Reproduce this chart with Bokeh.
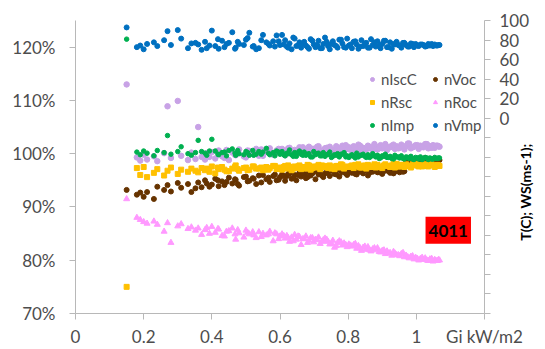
import math
from bokeh.plotting import figure
from bokeh.models import (Range1d, LinearAxis, FixedTicker, PrintfTickFormatter,
                          CustomJSTickFormatter, Legend, LegendItem, Label)
from bokeh.embed import file_html
from bokeh.resources import INLINE

# ---------------- data ----------------
x_gi = [
    0.15,
    0.18, 0.19, 0.20, 0.21, 0.23, 0.24, 0.26, 0.27, 0.28, 0.30, 0.31, 0.33, 0.34,
    0.36, 0.37, 0.38, 0.40, 0.41, 0.42, 0.43, 0.45, 0.46, 0.47, 0.48, 0.50, 0.51, 0.52, 0.53, 0.55, 0.56, 0.57, 0.58, 0.59,
    0.600, 0.606, 0.615, 0.620, 0.628, 0.634, 0.643, 0.648, 0.657, 0.662,
    0.671, 0.676, 0.685, 0.690, 0.699, 0.704, 0.713, 0.718, 0.727, 0.732,
    0.741, 0.746, 0.755, 0.760, 0.769, 0.774, 0.783, 0.788, 0.797, 0.802,
    0.811, 0.816, 0.825, 0.830, 0.839, 0.844, 0.853, 0.858, 0.867, 0.872,
    0.881, 0.886, 0.895, 0.900, 0.909, 0.914, 0.923, 0.928, 0.937, 0.942,
    0.951, 0.956, 0.965, 0.970, 0.979, 0.984, 0.993, 0.998, 1.007, 1.012,
    1.021, 1.026, 1.035, 1.040, 1.049, 1.054, 1.062, 1.068,
    0.352, 0.385, 0.393, 0.418, 0.437, 0.443, 0.468, 0.476, 0.494, 0.505,
    0.523, 0.538, 0.545, 0.566, 0.585, 0.596, 0.611, 0.624, 0.639, 0.653,
    0.667, 0.681, 0.695, 0.709, 0.723, 0.737, 0.751, 0.765, 0.779, 0.793,
    0.807, 0.821, 0.835, 0.849, 0.863, 0.877, 0.891, 0.905, 0.919, 0.933,
    0.947, 0.961, 0.975, 0.989, 1.003, 1.017, 1.031, 1.045, 1.058, 1.065,
]

n_iscc = [
    113.0,
    99.3, 98.7, 99.8, 98.9, 99.5, 98.6, 100.1, 108.9, 99.2, 109.9, 99.6, 98.8, 100.2,
    105.0, 99.4, 98.9, 100.3, 99.1, 100.6, 99.5, 98.8, 100.2, 99.7, 100.8, 99.3, 100.5, 99.9, 100.9, 99.6, 100.4, 101.0, 99.8, 100.6,
    100.2, 100.9, 99.7, 100.5, 101.1, 100.0, 100.7, 99.9, 101.2, 100.4,
    100.8, 100.1, 101.3, 100.5, 100.9, 100.2, 101.4, 100.6, 100.3, 101.0,
    100.5, 101.3, 100.7, 100.2, 101.1, 100.8, 101.5, 100.4, 100.9, 101.2,
    100.6, 101.4, 100.9, 101.7, 100.5, 101.1, 100.8, 101.5, 101.0, 100.6,
    101.3, 100.8, 101.6, 101.0, 101.8, 100.7, 101.2, 101.5, 100.9, 101.4,
    101.1, 101.7, 100.8, 101.4, 101.9, 101.0, 101.3, 101.6, 100.9, 101.5,
    101.2, 101.8, 101.0, 101.4, 101.6, 101.1, 101.5, 101.3,
    99.0, 100.1, 99.4, 100.4, 99.2, 100.7, 99.8, 100.3, 99.5, 100.6,
    100.0, 99.6, 100.8, 100.2, 99.9, 100.9, 100.4, 101.0, 100.1, 100.6,
    101.2, 100.4, 100.9, 101.3, 100.6, 101.1, 100.3, 101.4, 100.9, 101.6,
    100.7, 101.2, 101.5, 100.8, 101.3, 101.8, 101.0, 101.5, 101.2, 101.7,
    101.0, 101.4, 101.9, 101.2, 101.6, 101.3, 101.8, 101.1, 101.5, 101.4,
]

n_voc = [
    93.2,
    92.3, 92.7, 91.9, 92.8, 91.5, 93.8, 93.2, 94.1, 92.9, 94.5, 93.6, 94.3, 92.8,
    94.6, 93.7, 95.0, 94.2, 95.3, 93.9, 94.8, 95.5, 94.4, 95.1, 94.0, 95.7, 94.9, 95.4, 94.3, 96.0, 95.2, 94.7, 95.8, 95.0,
    95.6, 96.1, 94.9, 95.8, 96.3, 95.3, 96.0, 95.0, 96.4, 95.7,
    96.2, 95.4, 96.5, 95.9, 96.7, 95.2, 96.1, 96.8, 95.6, 96.3,
    96.6, 95.8, 96.9, 96.2, 97.0, 95.7, 96.5, 97.1, 96.0, 96.7,
    96.4, 97.0, 96.1, 96.8, 97.2, 96.3, 96.9, 95.9, 97.3, 96.6,
    97.1, 96.5, 97.4, 96.2, 96.8, 97.5, 96.4, 97.0, 96.6, 97.2,
    96.5, 97.3, 96.7, 98.6, 99.0, 98.4, 98.9, 98.7, 99.1, 98.5,
    98.8, 99.2, 98.6, 99.0, 98.7, 99.1, 98.9, 98.8,
    93.5, 94.4, 93.8, 95.0, 94.1, 94.7, 95.2, 94.3, 95.6, 94.8,
    95.3, 95.9, 94.6, 95.5, 96.1, 95.1, 95.8, 96.2, 95.4, 96.0,
    96.4, 95.6, 96.3, 96.6, 95.9, 96.5, 96.8, 96.1, 96.7, 96.3,
    96.9, 96.2, 96.6, 97.0, 96.4, 96.9, 96.5, 97.1, 96.7, 96.3,
    96.8, 96.6, 98.5, 98.9, 98.6, 99.0, 98.7, 98.9, 98.6, 98.8,
]

n_rsc = [
    75.0,
    97.3, 96.0, 97.5, 95.6, 96.4, 97.1, 95.9, 96.8, 97.4, 96.2, 97.0, 96.6, 97.2,
    96.5, 97.3, 96.9, 97.6, 96.3, 97.1, 97.5, 96.7, 97.2, 97.8, 96.8, 97.4, 97.0, 97.6, 97.2, 96.9, 97.5, 97.3, 97.7, 97.1,
    97.4, 97.0, 97.7, 97.2, 97.5, 96.9, 97.6, 97.3, 97.8, 97.1,
    97.5, 97.2, 97.8, 97.0, 97.6, 97.4, 97.9, 97.1, 97.5, 97.7,
    97.3, 97.8, 97.5, 97.1, 97.7, 97.4, 97.9, 97.2, 97.6, 97.5,
    97.8, 97.3, 97.6, 98.0, 97.4, 97.7, 97.2, 97.9, 97.5, 97.6,
    97.4, 97.9, 97.6, 97.3, 98.0, 97.7, 97.5, 97.8, 97.4, 98.1,
    97.6, 97.9, 97.5, 98.0, 97.7, 97.4, 97.8, 98.1, 97.6, 97.9,
    97.7, 98.0, 97.6, 97.9, 97.8, 97.5, 97.9, 97.7,
    96.8, 97.2, 96.6, 97.4, 97.0, 96.7, 97.5, 97.1, 97.3, 96.9,
    97.6, 97.2, 97.4, 97.0, 97.7, 97.3, 97.5, 97.8, 97.2, 97.6,
    97.4, 97.9, 97.3, 97.6, 97.8, 97.5, 97.2, 97.7, 98.0, 97.5,
    97.6, 97.9, 97.4, 97.8, 97.6, 98.0, 97.5, 97.8, 97.7, 98.1,
    97.6, 97.9, 97.7, 98.0, 97.8, 97.6, 97.9, 98.0, 97.7, 97.8,
]

n_roc = [
    91.5,
    88.0, 87.6, 87.2, 86.9, 87.3, 86.7, 85.4, 87.0, 83.3, 86.4, 86.8, 85.9, 86.2,
    86.0, 84.8, 85.7, 86.3, 85.2, 85.8, 84.6, 85.5, 86.0, 83.9, 85.1, 85.6, 84.9, 85.3, 84.2, 85.0, 84.7, 85.4, 83.6, 84.9,
    84.5, 84.9, 84.1, 84.6, 83.5, 84.3, 84.8, 83.9, 84.4, 82.9,
    84.0, 84.5, 83.7, 84.2, 83.4, 83.9, 84.3, 83.1, 83.8, 84.1,
    83.5, 83.0, 83.7, 82.4, 83.3, 83.6, 82.8, 83.2, 82.5, 83.0,
    82.6, 82.9, 82.2, 82.7, 81.8, 82.4, 82.0, 82.5, 81.7, 82.1,
    81.9, 82.3, 81.5, 81.8, 81.2, 81.7, 81.4, 80.9, 81.3, 81.0,
    80.8, 81.2, 80.6, 80.9, 80.4, 80.7, 80.2, 80.5, 80.0, 80.3,
    80.1, 80.4, 79.9, 80.2, 79.8, 80.1, 79.9, 80.0,
    85.6, 86.1, 85.0, 85.9, 84.5, 85.4, 84.9, 85.7, 84.3, 85.2,
    84.7, 85.3, 84.4, 84.9, 85.1, 84.0, 84.6, 84.2, 83.6, 84.5,
    84.0, 83.3, 84.2, 83.8, 83.5, 83.9, 83.2, 82.7, 83.4, 82.9,
    82.8, 83.1, 82.3, 82.6, 81.9, 82.3, 81.6, 81.9, 81.3, 81.6,
    81.0, 81.4, 80.6, 80.8, 80.3, 80.5, 80.0, 80.3, 79.9, 80.1,
]

n_imp = [
    121.5,
    100.3, 99.8, 100.5, 100.1, 99.6, 100.6, 100.2, 103.4, 99.9, 100.4, 101.3, 100.0, 99.7,
    102.5, 100.4, 100.1, 102.7, 100.5, 99.8, 100.2, 100.6, 100.9, 99.7, 100.0, 100.4, 99.7, 100.6, 99.9, 100.3, 101.0, 99.8, 100.2, 100.5,
    99.9, 100.4, 99.6, 100.1, 100.7, 99.8, 100.2, 99.5, 100.5, 99.9,
    100.3, 99.7, 100.0, 99.4, 100.4, 99.8, 100.1, 99.6, 100.2, 99.5,
    99.9, 100.3, 99.5, 99.8, 100.0, 99.4, 99.9, 100.2, 99.6, 99.3,
    99.8, 99.5, 100.1, 99.4, 99.7, 99.9, 99.3, 99.8, 99.5, 100.0,
    99.4, 99.7, 99.2, 99.6, 99.9, 99.3, 99.5, 99.1, 99.7, 99.4,
    99.2, 99.6, 99.0, 99.4, 99.1, 99.5, 98.9, 99.3, 99.0, 99.4,
    99.1, 99.3, 98.9, 99.2, 99.0, 99.3, 99.1, 99.2,
    100.2, 99.7, 100.5, 99.9, 100.3, 99.6, 100.1, 100.6, 99.8, 100.2,
    99.7, 100.4, 99.9, 100.1, 99.6, 100.3, 99.8, 100.0, 99.5, 100.2,
    99.7, 99.9, 99.4, 100.0, 99.6, 99.8, 99.3, 99.7, 99.9, 99.4,
    99.6, 99.2, 99.7, 99.5, 99.3, 99.6, 99.1, 99.5, 99.3, 99.0,
    99.4, 99.1, 99.3, 99.0, 99.2, 98.9, 99.2, 99.0, 99.1, 99.2,
]

n_vmp = [
    123.7,
    120.0, 120.3, 119.6, 120.6, 120.9, 120.2, 121.3, 123.0, 120.4, 123.2, 121.6, 119.8, 120.7,
    120.5, 119.5, 121.0, 123.1, 120.2, 119.7, 121.2, 120.8, 122.8, 119.9, 120.6, 121.4, 122.7, 120.1, 119.6, 122.3, 120.9, 120.3, 121.1, 122.2,
    120.4, 122.3, 121.3, 120.1, 120.7, 119.6, 121.6, 120.2, 120.9, 119.9,
    121.0, 120.3, 119.7, 121.5, 120.5, 120.0, 121.2, 119.8, 120.6, 121.8,
    120.2, 119.6, 121.1, 120.4, 119.9, 121.4, 120.7, 120.0, 121.6, 120.3,
    119.8, 121.0, 120.5, 119.7, 121.3, 120.2, 120.8, 119.9, 121.5, 120.4,
    120.1, 121.1, 119.8, 120.6, 121.2, 120.0, 120.9, 119.7, 120.5, 121.0,
    120.3, 119.9, 120.8, 120.4, 120.1, 120.7, 120.0, 120.6, 120.2, 120.5,
    120.4, 120.1, 120.6, 120.3, 120.2, 120.5, 120.3, 120.4,
    120.8, 119.8, 120.3, 121.5, 120.0, 120.6, 119.7, 121.0, 120.4, 121.7,
    120.2, 119.8, 121.3, 120.6, 120.1, 121.1, 120.5, 119.9, 121.8, 120.3,
    120.7, 120.0, 121.2, 120.4, 119.8, 121.0, 120.6, 120.2, 121.4, 119.9,
    120.5, 121.1, 120.1, 120.7, 119.9, 120.9, 120.3, 121.2, 120.0, 120.6,
    120.4, 120.8, 120.1, 120.6, 120.3, 120.5, 120.2, 120.6, 120.3, 120.4,
]

for s in (n_iscc, n_voc, n_rsc, n_roc, n_imp, n_vmp):
    assert len(s) == len(x_gi), (len(s), len(x_gi))

pct_ticks = [70, 80, 90, 100, 110, 120]
gi_ticks = [0, 0.2, 0.4, 0.6, 0.8, 1.0, 1.2]
env_ticks = [-200, -180, -160, -140, -120, -100, -80, -60, -40, -20, 0, 20, 40, 60, 80, 100]
x_title = "Gi kW/m2"
env_title = "T(C); WS(ms-1);"

FONT = "Lato"
AX = "#b8b8b8"
TXT = "#4d4d4d"

p = figure(width=545, height=349, x_range=Range1d(0, 1.2), y_range=Range1d(70, 125),
           output_backend="svg", toolbar_location=None,
           min_border_left=75, min_border_right=55, min_border_top=20, min_border_bottom=35)
p.outline_line_color = None
p.xgrid.visible = False
p.ygrid.visible = False

p.extra_y_ranges = {"env": Range1d(-200, 100)}
raxis = LinearAxis(y_range_name="env")
p.add_layout(raxis, "right")

p.yaxis[0].ticker = FixedTicker(ticks=pct_ticks)
p.yaxis[0].formatter = PrintfTickFormatter(format="%d%%")
p.xaxis[0].ticker = FixedTicker(ticks=gi_ticks)
p.xaxis[0].formatter = CustomJSTickFormatter(
    args=dict(t=x_title),
    code="return tick > 1.1 ? t : String(Math.round(tick*10)/10);")
raxis.ticker = FixedTicker(ticks=env_ticks)
raxis.formatter = CustomJSTickFormatter(code="return tick < 0 ? '' : String(tick);")

for ax in (p.xaxis[0], p.yaxis[0], raxis):
    ax.axis_line_color = AX
    ax.major_tick_line_color = AX
    ax.minor_tick_line_color = None
    ax.major_tick_in = 0
    ax.major_tick_out = 6
    ax.major_label_text_font = FONT
    ax.major_label_text_font_size = "17px"
    ax.major_label_text_color = TXT
p.yaxis[0].major_label_standoff = 14
p.xaxis[0].major_label_standoff = 6
raxis.major_label_standoff = 9

if "axis_label_align" in raxis.properties():
    raxis.axis_label_align = "start"
    raxis.axis_label = "\u2003" * 6 + "\u00a0" * 3 + env_title
else:
    raxis.axis_label = env_title
raxis.axis_label_orientation = math.pi / 2
raxis.axis_label_standoff = -7
raxis.axis_label_text_font = FONT
raxis.axis_label_text_font_size = "14px"
raxis.axis_label_text_font_style = "bold"
raxis.axis_label_text_color = "black"

specs = [
    ("nIscC", n_iscc, "circle", 5.5, "#c8a2e6"),
    ("nVoc", n_voc, "circle", 5, "#663300"),
    ("nRsc", n_rsc, "square", 5, "#ffc000"),
    ("nRoc", n_roc, "triangle", 6, "#ff99ff"),
    ("nImp", n_imp, "circle", 4.5, "#00b050"),
    ("nVmp", n_vmp, "circle", 5, "#0070c0"),
]
items = []
for name, ys, mk, sz, col in specs:
    r = p.scatter(x_gi, ys, marker=mk, size=sz, fill_color=col, line_color=col)
    items.append(LegendItem(label=name, renderers=[r]))

legend = Legend(items=items, orientation="horizontal", ncols=2,
                location=(292, 178), padding=0, margin=0, spacing=3,
                glyph_width=10, glyph_height=20, label_height=20, label_width=46,
                label_standoff=4, border_line_color=None, background_fill_alpha=0,
                label_text_font=FONT, label_text_font_size="15px", label_text_color=TXT)
p.add_layout(legend)

p.add_layout(Label(x=1.027, y=83.1, text="4011", text_font=FONT, text_font_style="bold",
                   text_font_size="17px", text_color="black", background_fill_color="red",
                   padding=dict(left=3, right=3, top=8, bottom=7), text_baseline="bottom"))

open("out.html", "w").write(file_html(p, INLINE))
